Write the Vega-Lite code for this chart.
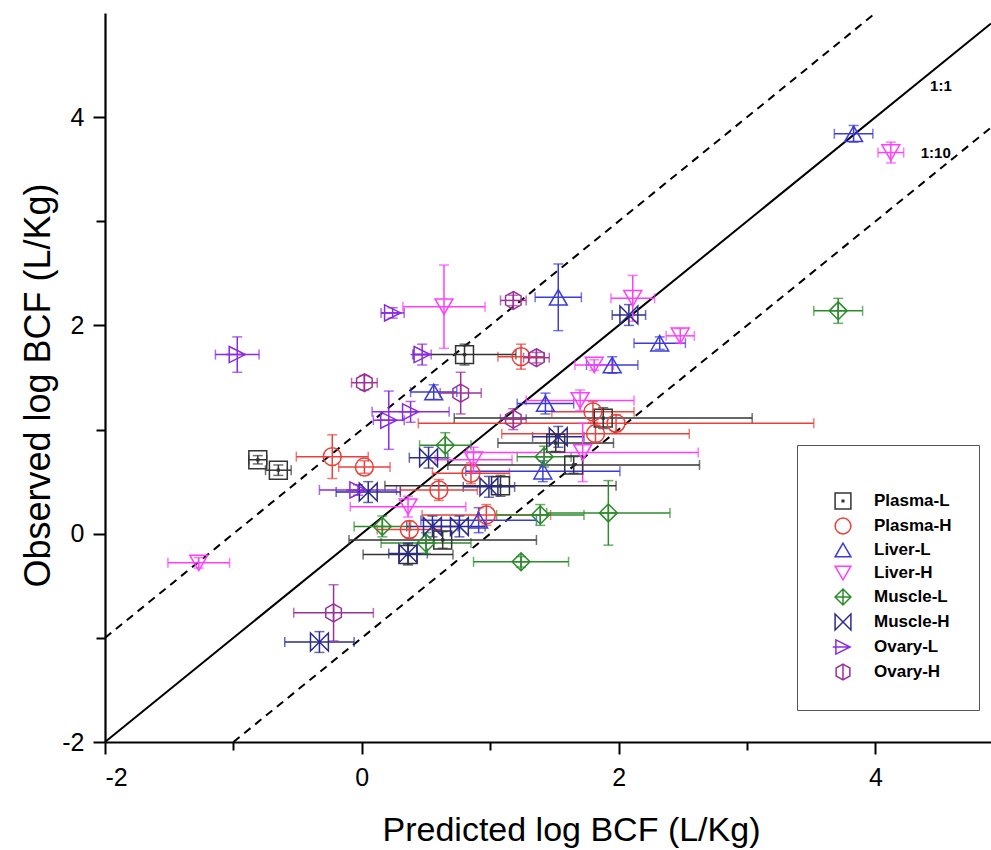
{
  "$schema": "https://vega.github.io/schema/vega-lite/v6.json",
  "autosize": {"type": "none"},
  "padding": {"left": 105, "top": 13, "right": 0, "bottom": 108},
  "width": 886,
  "height": 729,
  "background": "white",
  "config": {
    "view": {"stroke": null},
    "font": "Liberation Sans",
    "axis": {
      "grid": false,
      "domainColor": "black",
      "domainWidth": 2.2,
      "tickColor": "black",
      "tickWidth": 2,
      "labelFont": "Liberation Sans",
      "labelFontSize": 25,
      "labelColor": "black",
      "titleFont": "Liberation Sans",
      "titleFontWeight": "normal",
      "titleColor": "black"
    },
    "legend": {
      "orient": "none", "legendX": 692, "legendY": 432, "titleFontSize": 10, "titlePadding": 10,
      "strokeColor": "#555555", "padding": 27, "labelFont": "Liberation Sans", "labelFontWeight": "bold", "labelFontSize": 17, "labelColor": "black",
      "symbolSize": 250, "symbolStrokeWidth": 1.5, "rowPadding": 3, "symbolOffset": 10, "labelOffset": 22
    }
  },
  "datasets": {
    "pts": [
      {"s": "Plasma-L", "x": -0.81, "y": 0.71, "xe": 0.07, "ye": 0.04},
      {"s": "Plasma-L", "x": -0.65, "y": 0.61, "xe": 0.1, "ye": 0.05},
      {"s": "Plasma-L", "x": 0.80, "y": 1.72, "xe": 0.4, "ye": 0.1},
      {"s": "Plasma-L", "x": 1.88, "y": 1.11, "xe": 1.16, "ye": 0.1},
      {"s": "Plasma-L", "x": 1.51, "y": 0.87, "xe": 0.45, "ye": 0.08},
      {"s": "Plasma-L", "x": 1.65, "y": 0.66, "xe": 0.98, "ye": 0.08},
      {"s": "Plasma-L", "x": 1.08, "y": 0.46, "xe": 0.9, "ye": 0.1},
      {"s": "Plasma-L", "x": 0.63, "y": -0.06, "xe": 0.73, "ye": 0.08},
      {"s": "Plasma-L", "x": 0.36, "y": -0.2, "xe": 0.35, "ye": 0.1},
      {"s": "Plasma-H", "x": -0.23, "y": 0.74, "xe": 0.28, "ye": 0.21},
      {"s": "Plasma-H", "x": 0.02, "y": 0.64, "xe": 0.2, "ye": 0.06},
      {"s": "Plasma-H", "x": 1.24, "y": 1.70, "xe": 0.18, "ye": 0.12},
      {"s": "Plasma-H", "x": 1.80, "y": 1.17, "xe": 0.32, "ye": 0.1},
      {"s": "Plasma-H", "x": 1.98, "y": 1.06, "xe": 1.54, "ye": 0.08},
      {"s": "Plasma-H", "x": 1.82, "y": 0.96, "xe": 0.73, "ye": 0.08},
      {"s": "Plasma-H", "x": 0.85, "y": 0.58, "xe": 0.3, "ye": 0.1},
      {"s": "Plasma-H", "x": 0.60, "y": 0.42, "xe": 0.3, "ye": 0.1},
      {"s": "Plasma-H", "x": 0.37, "y": 0.04, "xe": 0.25, "ye": 0.08},
      {"s": "Plasma-H", "x": 0.97, "y": 0.18, "xe": 0.5, "ye": 0.1},
      {"s": "Liver-L", "x": 3.83, "y": 3.84, "xe": 0.15, "ye": 0.08},
      {"s": "Liver-L", "x": 1.53, "y": 2.27, "xe": 0.18, "ye": 0.32},
      {"s": "Liver-L", "x": 2.32, "y": 1.83, "xe": 0.2, "ye": 0.06},
      {"s": "Liver-L", "x": 1.95, "y": 1.62, "xe": 0.2, "ye": 0.08},
      {"s": "Liver-L", "x": 0.56, "y": 1.36, "xe": 0.18, "ye": 0.07},
      {"s": "Liver-L", "x": 1.43, "y": 1.25, "xe": 0.22, "ye": 0.1},
      {"s": "Liver-L", "x": 1.41, "y": 0.60, "xe": 0.6, "ye": 0.1},
      {"s": "Liver-L", "x": 0.91, "y": 0.13, "xe": 0.45, "ye": 0.12},
      {"s": "Liver-H", "x": 4.12, "y": 3.66, "xe": 0.1, "ye": 0.1},
      {"s": "Liver-H", "x": 0.64, "y": 2.18, "xe": 0.32, "ye": 0.4},
      {"s": "Liver-H", "x": 2.11, "y": 2.26, "xe": 0.17, "ye": 0.22},
      {"s": "Liver-H", "x": 2.48, "y": 1.90, "xe": 0.11, "ye": 0.07},
      {"s": "Liver-H", "x": 1.81, "y": 1.62, "xe": 0.15, "ye": 0.05},
      {"s": "Liver-H", "x": 1.70, "y": 1.28, "xe": 0.42, "ye": 0.1},
      {"s": "Liver-H", "x": 1.72, "y": 0.78, "xe": 0.9, "ye": 0.28},
      {"s": "Liver-H", "x": 0.87, "y": 0.71, "xe": 0.3, "ye": 0.12},
      {"s": "Liver-H", "x": 0.36, "y": 0.26, "xe": 0.45, "ye": 0.1},
      {"s": "Liver-H", "x": -1.27, "y": -0.28, "xe": 0.24, "ye": 0.05},
      {"s": "Muscle-L", "x": 3.71, "y": 2.14, "xe": 0.19, "ye": 0.12},
      {"s": "Muscle-L", "x": 0.65, "y": 0.85, "xe": 0.2, "ye": 0.12},
      {"s": "Muscle-L", "x": 1.42, "y": 0.74, "xe": 0.21, "ye": 0.1},
      {"s": "Muscle-L", "x": 1.39, "y": 0.18, "xe": 0.34, "ye": 0.1},
      {"s": "Muscle-L", "x": 1.92, "y": 0.20, "xe": 0.48, "ye": 0.31},
      {"s": "Muscle-L", "x": 1.24, "y": -0.27, "xe": 0.37, "ye": 0.05},
      {"s": "Muscle-L", "x": 0.16, "y": 0.07, "xe": 0.22, "ye": 0.1},
      {"s": "Muscle-L", "x": 0.50, "y": -0.09, "xe": 0.35, "ye": 0.1},
      {"s": "Muscle-H", "x": 2.08, "y": 2.10, "xe": 0.13, "ye": 0.1},
      {"s": "Muscle-H", "x": 1.53, "y": 0.93, "xe": 0.2, "ye": 0.1},
      {"s": "Muscle-H", "x": 0.52, "y": 0.73, "xe": 0.15, "ye": 0.1},
      {"s": "Muscle-H", "x": 0.99, "y": 0.45, "xe": 0.2, "ye": 0.1},
      {"s": "Muscle-H", "x": 0.05, "y": 0.40, "xe": 0.25, "ye": 0.1},
      {"s": "Muscle-H", "x": 0.55, "y": 0.07, "xe": 0.2, "ye": 0.1},
      {"s": "Muscle-H", "x": 0.76, "y": 0.07, "xe": 0.2, "ye": 0.1},
      {"s": "Muscle-H", "x": 0.36, "y": -0.19, "xe": 0.15, "ye": 0.1},
      {"s": "Muscle-H", "x": -0.33, "y": -1.04, "xe": 0.27, "ye": 0.1},
      {"s": "Ovary-L", "x": -0.97, "y": 1.72, "xe": 0.17, "ye": 0.17},
      {"s": "Ovary-L", "x": 0.24, "y": 2.12, "xe": 0.09, "ye": 0.05},
      {"s": "Ovary-L", "x": 0.47, "y": 1.72, "xe": 0.07, "ye": 0.1},
      {"s": "Ovary-L", "x": 0.21, "y": 1.09, "xe": 0.12, "ye": 0.28},
      {"s": "Ovary-L", "x": 0.38, "y": 1.17, "xe": 0.3, "ye": 0.1},
      {"s": "Ovary-L", "x": -0.03, "y": 0.42, "xe": 0.3, "ye": 0.05},
      {"s": "Ovary-H", "x": 0.02, "y": 1.45, "xe": 0.1, "ye": 0.07},
      {"s": "Ovary-H", "x": 1.18, "y": 2.24, "xe": 0.1, "ye": 0.05},
      {"s": "Ovary-H", "x": 1.36, "y": 1.69, "xe": 0.1, "ye": 0.05},
      {"s": "Ovary-H", "x": 0.77, "y": 1.35, "xe": 0.16, "ye": 0.2},
      {"s": "Ovary-H", "x": 1.18, "y": 1.10, "xe": 0.1, "ye": 0.1},
      {"s": "Ovary-H", "x": -0.22, "y": -0.76, "xe": 0.31, "ye": 0.27}
    ],
    "lines": [
      {"line": "1:1", "x": -2, "y": -2},
      {"line": "1:1", "x": 4.9, "y": 4.9},
      {"line": "up", "x": -2, "y": -1},
      {"line": "up", "x": 4, "y": 5},
      {"line": "down", "x": -1, "y": -2},
      {"line": "down", "x": 4.9, "y": 3.9}
    ],
    "labels": [
      {"x": 4.51, "y": 4.3, "t": "1:1"},
      {"x": 4.47, "y": 3.66, "t": "1:10"}
    ]
  },
  "encoding": {
    "x": {"field": "x", "type": "quantitative", "scale": {"domain": [-2, 4.9], "nice": false, "zero": false},
      "axis": {"title": "Predicted log BCF (L/Kg)", "titleFontSize": 34, "titleX": 466, "values": [-2, -1, 0, 1, 2, 3, 4],
        "labelExpr": "datum.value % 2 == 0 ? toString(datum.value) : ''",
        "tickSize": {"condition": {"test": "datum.value % 2 == 0", "value": 12}, "value": 8}, "labelPadding": 11, "titlePadding": 23}},
    "y": {"field": "y", "type": "quantitative", "scale": {"domain": [-2, 5], "nice": false, "zero": false},
      "axis": {"title": "Observed log BCF (L/Kg)", "titleFontSize": 36, "titleY": 372, "values": [-2, -1, 0, 1, 2, 3, 4],
        "labelExpr": "datum.value % 2 == 0 ? toString(datum.value) : ''",
        "tickSize": {"condition": {"test": "datum.value % 2 == 0", "value": 12}, "value": 9}, "labelPadding": 9, "titlePadding": 4}}
  },
  "layer": [
    {
      "data": {"name": "lines"},
      "transform": [{"filter": "datum.line == '1:1'"}],
      "mark": {"type": "line", "color": "black", "strokeWidth": 2},
      "encoding": {}
    },
    {
      "data": {"name": "lines"},
      "transform": [{"filter": "datum.line != '1:1'"}],
      "mark": {"type": "line", "color": "black", "strokeWidth": 2, "strokeDash": [8, 6]},
      "encoding": {"detail": {"field": "line"}}
    },
    {
      "data": {"values": [{}]},
      "mark": {"type": "rule", "color": "black", "strokeWidth": 2.2},
      "encoding": {"x": {"datum": -2}, "x2": {"datum": 4.9}, "y": {"datum": 5}}
    },
    {
      "data": {"name": "labels"},
      "mark": {"type": "text", "font": "Liberation Sans", "fontWeight": "bold", "fontSize": 15, "color": "black"},
      "encoding": {"text": {"field": "t"}}
    },
    {
      "data": {"name": "pts"},
      "mark": {"type": "errorbar", "ticks": {"size": 10}, "thickness": 1.5},
      "encoding": {
        "xError": {"field": "xe"},
        "color": {"field": "s", "type": "nominal", "legend": null,
          "scale": {"domain": ["Plasma-L", "Plasma-H", "Liver-L", "Liver-H", "Muscle-L", "Muscle-H", "Ovary-L", "Ovary-H"],
            "range": ["#333333", "#e8413c", "#3b3bd9", "#ff3fff", "#2e8b2e", "#2b2b8c", "#8a2be2", "#993399"]}}
      }
    },
    {
      "data": {"name": "pts"},
      "mark": {"type": "errorbar", "ticks": {"size": 10}, "thickness": 1.5},
      "encoding": {
        "yError": {"field": "ye"},
        "color": {"field": "s", "type": "nominal", "legend": null,
          "scale": {"domain": ["Plasma-L", "Plasma-H", "Liver-L", "Liver-H", "Muscle-L", "Muscle-H", "Ovary-L", "Ovary-H"],
            "range": ["#333333", "#e8413c", "#3b3bd9", "#ff3fff", "#2e8b2e", "#2b2b8c", "#8a2be2", "#993399"]}}
      }
    },
    {
      "data": {"name": "pts"},
      "mark": {"type": "point", "filled": false, "strokeWidth": 1.5, "size": 320, "opacity": 1},
      "encoding": {
        "color": {"field": "s", "type": "nominal",
          "scale": {"domain": ["Plasma-L", "Plasma-H", "Liver-L", "Liver-H", "Muscle-L", "Muscle-H", "Ovary-L", "Ovary-H"],
            "range": ["#333333", "#e8413c", "#3b3bd9", "#ff3fff", "#2e8b2e", "#2b2b8c", "#8a2be2", "#993399"]},
          "legend": {"title": "\u00a0", "titleFontSize": 10, "titlePadding": 10}},
        "shape": {"field": "s", "type": "nominal",
          "scale": {"domain": ["Plasma-L", "Plasma-H", "Liver-L", "Liver-H", "Muscle-L", "Muscle-H", "Ovary-L", "Ovary-H"],
            "range": ["M-1,-1H1V1H-1ZM-0.1,-0.1H0.1V0.1H-0.1Z", "circle", "triangle-up", "triangle-down",
              "M0,-1L1,0L0,1L-1,0ZM0,-1L0,1M-1,0L1,0", "M-1,-1L1,1L1,-1L-1,1Z",
              "M-0.9,-0.9L0.9,0L-0.9,0.9ZM-1.3,0L0.9,0", "M0,-1L0.87,-0.5L0.87,0.5L0,1L-0.87,0.5L-0.87,-0.5ZM0,-1L0,1"]},
          "legend": {"title": "\u00a0", "titleFontSize": 10, "titlePadding": 10}}
      }
    }
  ],
  "resolve": {"scale": {"color": "independent", "shape": "independent"}, "legend": {"color": "independent", "shape": "independent"}}
}
